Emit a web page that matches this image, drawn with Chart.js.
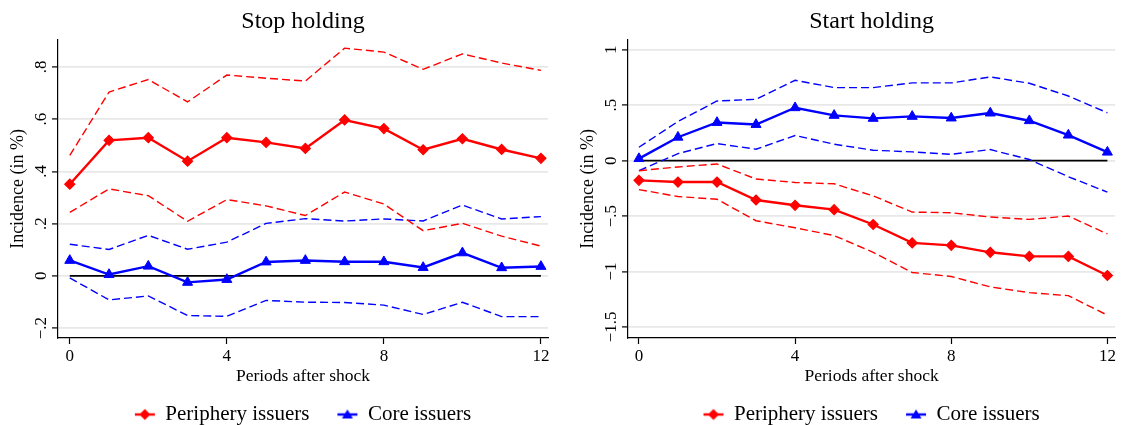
<!DOCTYPE html>
<html>
<head>
<meta charset="utf-8">
<script src="https://cdn.jsdelivr.net/npm/chart.js@4.4.1/dist/chart.umd.min.js"></script>
<style>
  html, body { margin: 0; padding: 0; background: #fff; }
  #wrap { position: relative; width: 1122px; height: 425px; overflow: hidden; }
  canvas { position: absolute; top: 0; }
</style>
</head>
<body>
<div id="wrap">
  <canvas id="left" width="561" height="425" style="left:0"></canvas>
  <canvas id="right" width="561" height="425" style="left:561px"></canvas>
</div>
<script>
// ---------- data ----------
const periods = [0, 1, 2, 3, 4, 5, 6, 7, 8, 9, 10, 11, 12];
const xTicks = [0, 4, 8, 12];
const seriesNames = ['Periphery issuers', 'Core issuers'];

// Panel 1: Stop holding
const stopTitle = 'Stop holding';
const stopPeriphery      = [0.351, 0.519, 0.529, 0.439, 0.529, 0.511, 0.488, 0.597, 0.564, 0.483, 0.525, 0.484, 0.450];
const stopPeripheryUpper = [0.461, 0.704, 0.752, 0.666, 0.769, 0.757, 0.746, 0.872, 0.857, 0.791, 0.850, 0.815, 0.787];
const stopPeripheryLower = [0.243, 0.333, 0.307, 0.209, 0.292, 0.268, 0.231, 0.321, 0.275, 0.173, 0.201, 0.152, 0.114];
const stopCore           = [0.059, 0.005, 0.037, -0.025, -0.014, 0.053, 0.059, 0.054, 0.054, 0.032, 0.088, 0.031, 0.036];
const stopCoreUpper      = [0.121, 0.101, 0.155, 0.102, 0.129, 0.201, 0.219, 0.210, 0.218, 0.210, 0.271, 0.218, 0.227];
const stopCoreLower      = [-0.008, -0.092, -0.077, -0.152, -0.155, -0.094, -0.101, -0.102, -0.112, -0.148, -0.101, -0.156, -0.156];
const stopYTicks  = [-0.2, 0, 0.2, 0.4, 0.6, 0.8];
const stopYLabels = ['\u2212.2', '0', '.2', '.4', '.6', '.8'];

// Panel 2: Start holding
const startTitle = 'Start holding';
const startPeriphery      = [-0.178, -0.193, -0.193, -0.355, -0.403, -0.442, -0.576, -0.742, -0.764, -0.827, -0.864, -0.864, -1.036];
const startPeripheryUpper = [-0.091, -0.057, -0.030, -0.166, -0.197, -0.209, -0.318, -0.464, -0.470, -0.509, -0.530, -0.500, -0.661];
const startPeripheryLower = [-0.261, -0.324, -0.348, -0.542, -0.606, -0.676, -0.827, -1.009, -1.045, -1.139, -1.191, -1.218, -1.394];
const startCore           = [0.018, 0.211, 0.344, 0.326, 0.477, 0.408, 0.381, 0.399, 0.384, 0.429, 0.360, 0.230, 0.076];
const startCoreUpper      = [0.121, 0.353, 0.538, 0.553, 0.725, 0.659, 0.659, 0.701, 0.701, 0.755, 0.698, 0.583, 0.432];
const startCoreLower      = [-0.091, 0.063, 0.154, 0.103, 0.227, 0.148, 0.094, 0.079, 0.057, 0.100, 0.010, -0.145, -0.284];
const startYTicks  = [-1.5, -1, -0.5, 0, 0.5, 1];
const startYLabels = ['\u22121.5', '\u22121', '\u2212.5', '0', '.5', '1'];

const yTitle = 'Incidence (in %)';
const xTitle = 'Periods after shock';

// ---------- styling ----------
const RED = '#ff0000';
const BLUE = '#0000ff';
const FONT = '"Liberation Serif", "Times New Roman", serif';

function pts(vals) { return periods.map((p, i) => ({ x: p, y: vals[i] })); }

function legendIcon(color, shape) {
  const c = document.createElement('canvas');
  c.width = 22; c.height = 14;
  const g = c.getContext('2d');
  g.strokeStyle = color; g.fillStyle = color; g.lineWidth = 2.4;
  g.beginPath(); g.moveTo(1, 7); g.lineTo(21, 7); g.stroke();
  g.beginPath();
  if (shape === 'diamond') {
    g.moveTo(11, 1.5); g.lineTo(16.5, 7); g.lineTo(11, 12.5); g.lineTo(5.5, 7);
  } else {
    g.moveTo(11, 2); g.lineTo(16.5, 11); g.lineTo(5.5, 11);
  }
  g.closePath(); g.fill();
  return c;
}
const iconRed = legendIcon(RED, 'diamond');
const iconBlue = legendIcon(BLUE, 'triangle');

const axisText = {
  id: 'axisText',
  afterDraw(chart, args, opts) {
    const s = chart.scales.y;
    const ctx = chart.ctx;
    const area = chart.chartArea;
    const axisX = area.left;
    ctx.save();
    ctx.fillStyle = '#000';
    ctx.font = '17px ' + FONT;
    ctx.textAlign = 'center';
    ctx.textBaseline = 'alphabetic';
    s.ticks.forEach(t => {
      const y = s.getPixelForValue(t.value);
      ctx.save();
      ctx.translate(axisX - 12, y);
      ctx.rotate(-Math.PI / 2);
      ctx.fillText(t.label, 0, 0);
      ctx.restore();
    });
    // x-axis title
    ctx.font = '17.5px ' + FONT;
    ctx.textBaseline = 'middle';
    ctx.fillText(opts.xTitle, (area.left + area.right) / 2, area.bottom + 38);
    // y-axis title
    ctx.font = '18px ' + FONT;
    const cy = (area.top + area.bottom) / 2;
    ctx.translate(axisX - 40, cy);
    ctx.rotate(-Math.PI / 2);
    ctx.fillText(opts.yTitle, 0, 0);
    ctx.restore();
  }
};

function makeChart(id, cfg) {
  const dashed = { borderWidth: 1.4, borderDash: [8, 4], pointRadius: 0 };
  const datasets = [
    { label: seriesNames[0], data: pts(cfg.periphery), borderColor: RED, backgroundColor: RED,
      borderWidth: 2.4, pointStyle: 'rectRot', pointRadius: 5, pointBorderWidth: 1.2 },
    { label: seriesNames[1], data: pts(cfg.core), borderColor: BLUE, backgroundColor: BLUE,
      borderWidth: 2.4, pointStyle: 'triangle', pointRadius: 5.8, pointBorderWidth: 1 },
    Object.assign({ label: 'pu', data: pts(cfg.peripheryUpper), borderColor: RED }, dashed),
    Object.assign({ label: 'pl', data: pts(cfg.peripheryLower), borderColor: RED }, dashed),
    Object.assign({ label: 'cu', data: pts(cfg.coreUpper), borderColor: BLUE }, dashed),
    Object.assign({ label: 'cl', data: pts(cfg.coreLower), borderColor: BLUE }, dashed),
    { label: 'zero', data: [{ x: periods[0], y: 0 }, { x: periods[periods.length - 1], y: 0 }],
      borderColor: '#000', borderWidth: 1.6, pointRadius: 0 }
  ];
  return new Chart(document.getElementById(id), {
    type: 'line',
    data: { datasets },
    options: {
      responsive: false,
      animation: false,
      devicePixelRatio: 1,
      layout: { padding: { left: 0, right: cfg.padRight, top: 0, bottom: -10 } },
      elements: { line: { tension: 0 } },
      plugins: {
        tooltip: { enabled: false },
        title: {
          display: true, text: cfg.title, color: '#000', fullSize: false,
          font: { family: FONT, size: 24, weight: 'normal' },
          padding: { top: 7, bottom: 4 }
        },
        legend: {
          position: 'bottom', fullSize: false,
          labels: {
            color: '#000', font: { family: FONT, size: 21 },
            usePointStyle: true, pointStyleWidth: 20, padding: 28,
            generateLabels: () => [
              { text: seriesNames[0], pointStyle: iconRed, fillStyle: RED, strokeStyle: RED, lineWidth: 0, datasetIndex: 0, hidden: false, fontColor: '#000' },
              { text: seriesNames[1], pointStyle: iconBlue, fillStyle: BLUE, strokeStyle: BLUE, lineWidth: 0, datasetIndex: 1, hidden: false, fontColor: '#000' }
            ]
          }
        },
        axisText: { yTitle: yTitle, xTitle: xTitle }
      },
      scales: {
        x: {
          type: 'linear', min: cfg.xMin, max: cfg.xMax,
          afterBuildTicks: s => { s.ticks = xTicks.map(v => ({ value: v })); },
          afterFit: s => { s.height = 38; },
          ticks: { color: '#000', font: { family: FONT, size: 17 }, padding: 2, maxRotation: 0, autoSkip: false },
          grid: { drawOnChartArea: false, tickColor: '#000', tickLength: 6, tickWidth: 1.2 },
          border: { color: '#000', width: 1.2 },
          title: { display: false }
        },
        y: {
          min: cfg.yMin, max: cfg.yMax,
          afterBuildTicks: s => { s.ticks = cfg.yTicks.map(v => ({ value: v })); },
          afterFit: s => { s.width = cfg.yAxisWidth; },
          ticks: { display: false, callback: (v, i) => cfg.yLabels[i] },
          grid: { color: '#e8e8e8', lineWidth: 1.8, tickColor: '#000', tickLength: 6, tickWidth: 1.2 },
          border: { color: '#000', width: 1.2 }
        }
      }
    },
    plugins: [axisText]
  });
}

makeChart('left', {
  title: stopTitle,
  periphery: stopPeriphery, peripheryUpper: stopPeripheryUpper, peripheryLower: stopPeripheryLower,
  core: stopCore, coreUpper: stopCoreUpper, coreLower: stopCoreLower,
  yTicks: stopYTicks, yLabels: stopYLabels,
  yMin: -0.238, yMax: 0.904, xMin: -0.3, xMax: 12.18,
  yAxisWidth: 58, padRight: 13
});
makeChart('right', {
  title: startTitle,
  periphery: startPeriphery, peripheryUpper: startPeripheryUpper, peripheryLower: startPeripheryLower,
  core: startCore, coreUpper: startCoreUpper, coreLower: startCoreLower,
  yTicks: startYTicks, yLabels: startYLabels,
  yMin: -1.6, yMax: 1.09, xMin: -0.28, xMax: 12.2,
  yAxisWidth: 67, padRight: 4
});
</script>
</body>
</html>
